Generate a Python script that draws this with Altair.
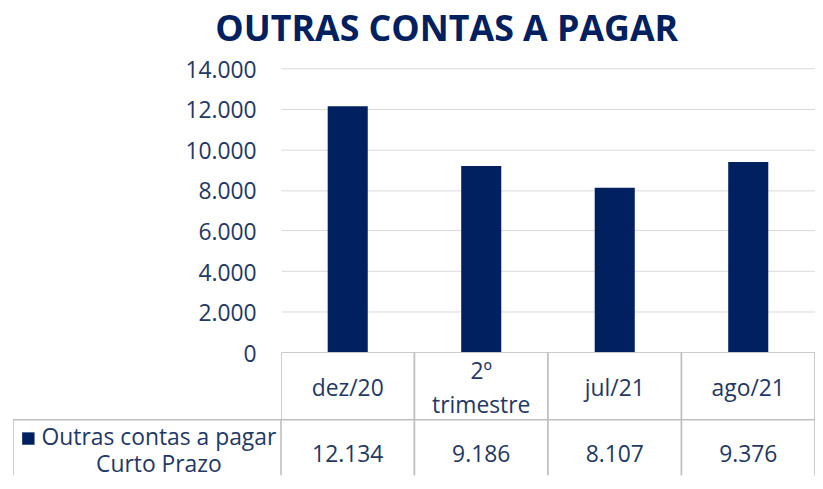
import altair as alt
import pandas as pd

# ---- data ----
categories = ["dez/20", "2º trimestre", "jul/21", "ago/21"]
values = [12134, 9186, 8107, 9376]
series_name = "Outras contas a pagar\nCurto Prazo"
y_ticks = [0, 2000, 4000, 6000, 8000, 10000, 12000, 14000]
rows = ["header", "values"]

NAVY = "#002060"
TEXT = "#1f3864"
FONT = "Open Sans"
GRID = "#d9d9d9"
BORDER = "#bfbfbf"
FS = 23
PLOT_W = 538

df = pd.DataFrame({"category": categories, "value": values})
cells = pd.DataFrame({"category": categories * 2,
                      "row": [rows[0]] * len(categories) + [rows[1]] * len(categories)})
leg_df = pd.DataFrame({"row": [rows[1]], "series": [series_name]})

fmt = "replace(format(datum.value, ','), ',', '.')"

# ---- bar chart ----
bars = alt.Chart(df).mark_bar(color=NAVY).encode(
    x=alt.X("category:N", sort=categories, axis=None,
            scale=alt.Scale(paddingInner=0.7, paddingOuter=0.35)),
    y=alt.Y("value:Q", scale=alt.Scale(domain=[0, 14000], nice=False),
            axis=alt.Axis(values=y_ticks, labelExpr=fmt, title=None, domain=False,
                          ticks=False, grid=True, gridColor=GRID, gridWidth=1,
                          labelFont=FONT, labelFontSize=FS, labelColor=TEXT,
                          labelPadding=25, labelOffset=2)),
).properties(width=PLOT_W, height=286)

# empty cell above the legend column
spacer = alt.Chart(leg_df).mark_text(text="", opacity=0).encode(y=alt.value(0)).properties(
    width=270, height=286)

# ---- data table (second row runs past the bottom edge, as in the reference) ----
TABLE_H = 124
tx = alt.X("category:N", sort=categories, axis=None,
           scale=alt.Scale(paddingInner=0, paddingOuter=0))
ty = alt.Y("row:N", sort=rows, axis=None,
           scale=alt.Scale(domain=rows, range=[0, 136], paddingInner=0, paddingOuter=0))

grid_cells = alt.Chart(cells).mark_rect(fill="white", stroke=BORDER, strokeWidth=1.6, clip=True).encode(
    x=tx, y=ty)
header_one = alt.Chart(df).transform_filter("indexof(datum.category, ' ') < 0").transform_calculate(
    row=f"'{rows[0]}'").mark_text(font=FONT, fontSize=FS, color=TEXT, dy=3
).encode(x=tx, y=ty, text="category:N")
header_two = alt.Chart(df).transform_filter("indexof(datum.category, ' ') >= 0").transform_calculate(
    row=f"'{rows[0]}'").mark_text(font=FONT, fontSize=FS, color=TEXT, lineBreak=" ",
                                  lineHeight=34, dy=-14
).encode(x=tx, y=ty, text="category:N")
vals = alt.Chart(df).transform_calculate(row=f"'{rows[1]}'", label=fmt).mark_text(
    font=FONT, fontSize=FS, color=TEXT, dy=2, clip=True
).encode(x=tx, y=ty, text="label:N")
table = alt.layer(grid_cells, header_one, header_two, vals).properties(width=PLOT_W, height=TABLE_H)

# ---- legend cell ----
leg_box = alt.Chart(leg_df).mark_rect(fill="white", stroke=BORDER, strokeWidth=1.6, clip=True).encode(
    y=ty, x=alt.value(0), x2=alt.value("width"))
leg_text = alt.Chart(leg_df).mark_text(
    font=FONT, fontSize=FS, color=TEXT, lineBreak="\n", lineHeight=27, dx=12, dy=-15, clip=True
).encode(y=ty, text="series:N")
leg_swatch = alt.Chart(leg_df).mark_square(
    size=156, color=NAVY, opacity=1, xOffset=-119.5, yOffset=-15
).encode(y=ty)
legend = alt.layer(leg_box, leg_text, leg_swatch).properties(width=270, height=TABLE_H)

chart = alt.concat(spacer, bars, legend, table, columns=2, spacing=0, bounds="flush").properties(
    title=alt.TitleParams("OUTRAS CONTAS A PAGAR", font=FONT, fontSize=36, fontWeight="bold",
                          color=NAVY, anchor="middle", dx=33, offset=10),
    padding={"left": 5, "top": 3, "right": 0, "bottom": 0},
).configure_view(stroke=None)

chart.save("out.html", embed_options={"renderer": "svg", "actions": False})
